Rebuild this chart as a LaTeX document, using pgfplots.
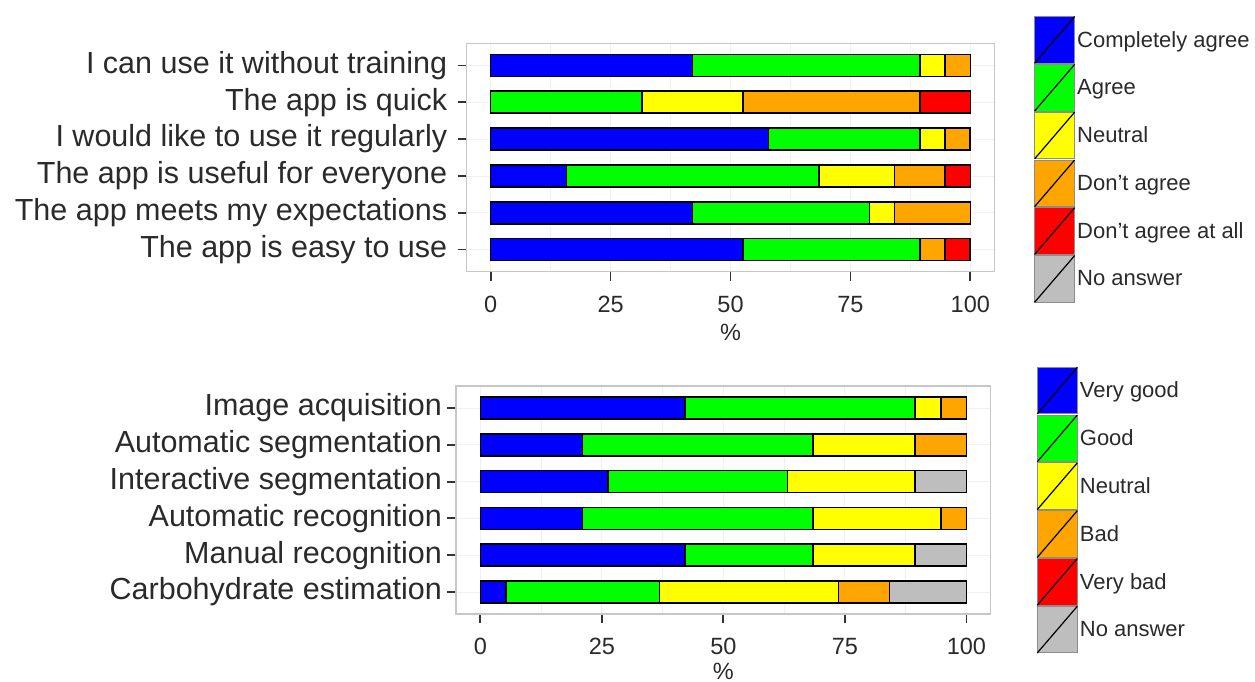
\documentclass[border=0pt]{standalone}
\usepackage{pgfplots}
\pgfplotsset{compat=1.18}
\usepackage{fontspec}
\setmainfont{Liberation Sans}
\definecolor{cblue}{HTML}{0000FF}
\definecolor{cgreen}{HTML}{00FF00}
\definecolor{cyellow}{HTML}{FFFF00}
\definecolor{corange}{HTML}{FFA500}
\definecolor{cred}{HTML}{FF0000}
\definecolor{cgray}{HTML}{BEBEBE}
\definecolor{txt}{HTML}{2A2A2A}
\pgfplotsset{
 likert/.style={
  xbar stacked, scale only axis,
  xmin=-5, xmax=105, ymin=-0.6, ymax=5.6,
  bar width=22pt, ytick={0,...,5}, xtick={0,25,50,75,100},
  axis line style={black!22, line width=1.2pt},
  tick align=outside, xtick pos=bottom, ytick pos=left,
  major tick length=9pt, minor tick length=0pt,
  every tick/.style={black!80, line width=1.8pt},
  major tick style={black!80, line width=1.8pt},
  xmajorgrids, ymajorgrids, minor xtick={12.5,37.5,62.5,87.5}, xminorgrids,
  grid style={black!6, line width=0.8pt},
  xticklabel style={font=\fontsize{23.5}{26}\selectfont, text=txt},
  yticklabel style={font=\fontsize{30.5}{33}\selectfont, text=txt},
  /pgf/number format/assume math mode=true,
  xlabel={\%}, xlabel style={font=\fontsize{23.5}{26}\selectfont, text=txt},
  every axis plot/.append style={draw=black, line width=1.6pt},
  legend image code/.code={
    \draw[##1, draw=black!45, line width=1pt] (0pt,-23.3pt) rectangle (40pt,23.3pt);
    \draw[black, line width=1.2pt] (0pt,-23.3pt) -- (40pt,23.3pt);
  },
  legend cell align=left,
  legend style={draw=none, fill=none, inner sep=0pt, outer sep=0pt,
    row sep=0pt, font=\fontsize{22}{24}\selectfont, text=txt, anchor=north west,
    /tikz/every even column/.append style={column sep=6pt}},
 }
}
\begin{document}
\begin{tikzpicture}
\path[use as bounding box] (0pt,0pt) rectangle (1255pt,-682pt);
% ---------- top panel ----------
\begin{axis}[likert,
  at={(466.7pt,-271.7pt)}, anchor=south west,
  width=527.6pt, height=228.4pt,
  yticklabels={The app is easy to use, The app meets my expectations, The app is useful for everyone, I would like to use it regularly, The app is quick, I can use it without training},
  yticklabel style={xshift=-7pt},
  xticklabel style={yshift=-12pt},
  xlabel style={yshift=-4.5pt},
  legend style={at={(axis description cs:1.0753,1.1195)}},
]
\addplot[fill=cblue] coordinates {(52.63,0) (42.11,1) (15.79,2) (57.89,3) (0,4) (42.11,5)};
\addplot[fill=cgreen] coordinates {(36.84,0) (36.84,1) (52.63,2) (31.58,3) (31.58,4) (47.37,5)};
\addplot[fill=cyellow] coordinates {(0,0) (5.26,1) (15.79,2) (5.26,3) (21.05,4) (5.26,5)};
\addplot[fill=corange] coordinates {(5.26,0) (15.79,1) (10.53,2) (5.26,3) (36.84,4) (5.26,5)};
\addplot[fill=cred] coordinates {(5.26,0) (0,1) (5.26,2) (0,3) (10.53,4) (0,5)};
\addlegendimage{fill=cgray}
\legend{Completely agree, Agree, Neutral, Don't agree, Don't agree at all, No answer}
\end{axis}
% ---------- bottom panel ----------
\begin{axis}[likert,
  at={(456pt,-614pt)}, anchor=south west,
  width=534.7pt, height=228pt,
  yticklabels={Carbohydrate estimation, Manual recognition, Automatic recognition, Interactive segmentation, Automatic segmentation, Image acquisition},
  yticklabel style={xshift=-1.5pt},
  xticklabel style={yshift=-11.5pt},
  xlabel style={yshift=-1.5pt},
  legend style={at={(axis description cs:1.086,1.0846)}},
]
\addplot[fill=cblue] coordinates {(5.26,0) (42.11,1) (21.05,2) (26.32,3) (21.05,4) (42.11,5)};
\addplot[fill=cgreen] coordinates {(31.58,0) (26.32,1) (47.37,2) (36.84,3) (47.37,4) (47.37,5)};
\addplot[fill=cyellow] coordinates {(36.84,0) (21.05,1) (26.32,2) (26.32,3) (21.05,4) (5.26,5)};
\addplot[fill=corange] coordinates {(10.53,0) (0,1) (5.26,2) (0,3) (10.53,4) (5.26,5)};
\addlegendimage{fill=cred}
\addplot[fill=cgray] coordinates {(15.79,0) (10.53,1) (0,2) (10.53,3) (0,4) (0,5)};
\legend{Very good, Good, Neutral, Bad, Very bad, No answer}
\end{axis}
\end{tikzpicture}
\end{document}
